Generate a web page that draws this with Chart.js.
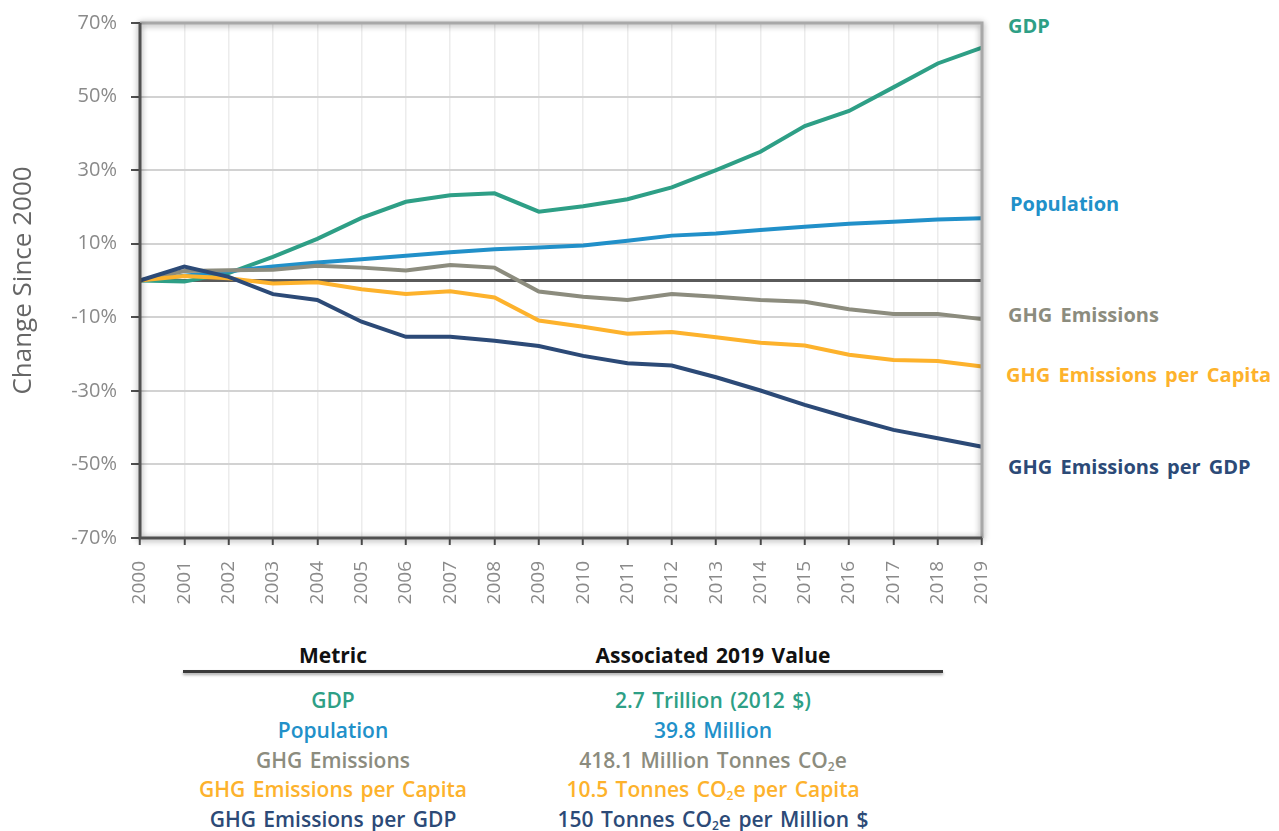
<!DOCTYPE html>
<html>
<head>
<meta charset="utf-8">
<script src="https://cdn.jsdelivr.net/npm/chart.js@4.4.1/dist/chart.umd.min.js"></script>
<style>
  html,body{margin:0;padding:0;background:#fff;}
  body{width:1279px;height:831px;position:relative;overflow:hidden;font-family:"Open Sans",sans-serif;}
  #wrap{position:absolute;left:0;top:0;width:1000px;height:640px;}
  .rl{position:absolute;font-weight:700;font-size:20px;white-space:nowrap;line-height:1;word-spacing:3px;}
  .cell{position:absolute;white-space:nowrap;font-size:21px;line-height:1;transform:translateX(-50%);font-weight:600;word-spacing:2px;}
  .hdr{color:#111;font-weight:700;}
  #hline{position:absolute;left:183px;top:670px;width:760px;height:3px;background:#3a3a3a;box-shadow:0 2px 3px rgba(0,0,0,0.35);}
  sub{font-size:12px;vertical-align:-3px;line-height:0;}
</style>
</head>
<body>
<div id="wrap"><canvas id="c" width="1000" height="640"></canvas></div>

<div class="rl" id="lab0" style="left:1008px;top:16px;"></div>
<div class="rl" id="lab1" style="left:1010px;top:194px;"></div>
<div class="rl" id="lab2" style="left:1008px;top:305px;"></div>
<div class="rl" id="lab3" style="left:1006px;top:365px;"></div>
<div class="rl" id="lab4" style="left:1008px;top:457px;"></div>

<div id="hline"></div>
<div class="cell hdr" style="left:333px;top:645px;">Metric</div>
<div class="cell hdr" style="left:713px;top:645px;">Associated 2019 Value</div>
<div id="rows"></div>

<script>
// ---- data ----
const years = ["2000","2001","2002","2003","2004","2005","2006","2007","2008","2009","2010","2011","2012","2013","2014","2015","2016","2017","2018","2019"];
const seriesNames = ["GDP","Population","GHG Emissions","GHG Emissions per Capita","GHG Emissions per GDP"];
const gdp        = [0,-0.3,2.0,6.4,11.3,17.0,21.4,23.2,23.7,18.7,20.2,22.1,25.3,30.0,35.0,42.0,46.1,52.5,59.0,63.3];
const population = [0,1.3,2.5,3.8,4.9,5.8,6.7,7.7,8.5,9.0,9.5,10.8,12.2,12.8,13.7,14.6,15.4,16.0,16.6,16.9];
const ghg        = [0,2.6,2.8,2.9,4.0,3.5,2.7,4.2,3.5,-3.0,-4.4,-5.3,-3.7,-4.4,-5.3,-5.8,-7.8,-9.1,-9.1,-10.5];
const ghgPerCap  = [0,1.2,0.6,-0.8,-0.5,-2.4,-3.7,-2.9,-4.6,-10.9,-12.6,-14.5,-14.0,-15.4,-16.9,-17.7,-20.2,-21.6,-21.9,-23.4];
const ghgPerGdp  = [0,3.8,1.0,-3.7,-5.3,-11.2,-15.3,-15.3,-16.4,-17.8,-20.5,-22.5,-23.1,-26.3,-29.9,-33.8,-37.3,-40.6,-42.9,-45.2];
const yMin = -70, yMax = 70, yStep = 20;
const metricLabels = ["GDP","Population","GHG Emissions","GHG Emissions per Capita","GHG Emissions per GDP"];
const metricValues = ["2.7 Trillion  (2012 $)","39.8 Million","418.1 Million Tonnes CO<sub>2</sub>e","10.5 Tonnes CO<sub>2</sub>e per Capita","150 Tonnes CO<sub>2</sub>e per Million $"];

const colors = ["#2e9f86","#2190c9","#8c8c7e","#fdb22c","#2c4a77"];
const seriesData = [gdp, population, ghg, ghgPerCap, ghgPerGdp];

seriesNames.forEach((n,i)=>{const el=document.getElementById('lab'+i);el.textContent=n;el.style.color=colors[i];});
const rows = document.getElementById('rows');
metricLabels.forEach((m,i)=>{
  const top = 690 + i*29.8;
  const a = document.createElement('div'); a.className='cell'; a.style.left='333px'; a.style.top=top+'px'; a.style.color=colors[i]; a.textContent=m; rows.appendChild(a);
  const b = document.createElement('div'); b.className='cell'; b.style.left='713px'; b.style.top=top+'px'; b.style.color=colors[i]; b.innerHTML=metricValues[i]; rows.appendChild(b);
});

const framePlugin = {
  id:'frame',
  beforeDatasetsDraw(chart){
    const {ctx, chartArea:a, scales:{y}} = chart;
    const z = y.getPixelForValue(0);
    ctx.save();
    ctx.strokeStyle='#5a5a5a'; ctx.lineWidth=3;
    ctx.beginPath(); ctx.moveTo(a.left, z); ctx.lineTo(a.right, z); ctx.stroke();
    ctx.restore();
  },
  afterDatasetsDraw(chart){
    const {ctx, chartArea:a} = chart;
    ctx.save();
    ctx.shadowColor='rgba(0,0,0,0.45)'; ctx.shadowBlur=6; ctx.shadowOffsetX=0; ctx.shadowOffsetY=1;
    ctx.strokeStyle='#a8a8a8'; ctx.lineWidth=3;
    ctx.beginPath(); ctx.moveTo(a.left, a.top); ctx.lineTo(a.right, a.top); ctx.lineTo(a.right, a.bottom); ctx.stroke();
    ctx.strokeStyle='#505050';
    ctx.beginPath(); ctx.moveTo(a.left, a.top); ctx.lineTo(a.left, a.bottom); ctx.lineTo(a.right, a.bottom); ctx.stroke();
    ctx.restore();
  }
};

new Chart(document.getElementById('c'), {
  type:'line',
  data:{
    labels: years,
    datasets: seriesNames.map((n,i)=>({
      label:n, data:seriesData[i], borderColor:colors[i], backgroundColor:colors[i],
      borderWidth:4, pointRadius:0, tension:0, fill:false, order:5-i
    }))
  },
  options:{
    responsive:false, animation:false,
    layout:{padding:{top:23,right:18,left:0,bottom:0}},
    plugins:{legend:{display:false}, tooltip:{enabled:false}},
    scales:{
      x:{
        offset:false,
        grid:{color:'#ececec', lineWidth:1.5, drawTicks:true, tickLength:7, tickColor:'#505050', tickWidth:2},
        border:{display:false},
        ticks:{color:'#8a8a8a', font:{family:'"Open Sans"', size:19}, maxRotation:90, minRotation:90, padding:16, autoSkip:false},
        afterFit(s){ s.height = 102; s.paddingLeft = 0; s.paddingRight = 0; }
      },
      y:{
        min:yMin, max:yMax,
        grid:{color:'#d2d2d2', lineWidth:2, drawTicks:true, tickLength:9, tickColor:'#505050', tickWidth:2},
        border:{display:false},
        ticks:{stepSize:yStep, color:'#8a8a8a', font:{family:'"Open Sans"', size:20}, padding:14, callback:v=>v+'%'},
        title:{display:true, text:'Change Since 2000', color:'#666', font:{family:'"Open Sans"', size:26}, padding:{top:8,bottom:10}},
        afterFit(s){ s.width = 140; s.paddingTop = 0; s.paddingBottom = 0; }
      }
    }
  },
  plugins:[framePlugin]
});
</script>
</body>
</html>
